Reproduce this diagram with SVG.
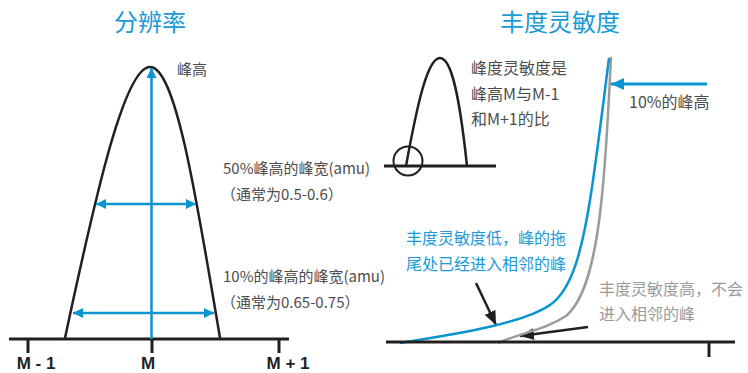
<svg xmlns="http://www.w3.org/2000/svg" width="748" height="373" viewBox="0 0 748 373">
<style>
.t{font-family:"Noto Sans CJK SC","Liberation Sans",sans-serif;fill:#4d4d4d}
.title{font-size:24px;fill:#1a9ad6;text-anchor:middle}
.s15{font-size:15px}
.s16{font-size:16px}
.blue{fill:#1a9ad6}
.gray{fill:#9b9b9b}
.lab{font-family:"Liberation Sans",Arial,sans-serif;font-weight:bold;font-size:17px;fill:#231f20;text-anchor:middle}
.k{stroke:#231f20;fill:none}
.b{stroke:#0a94d0;fill:none}
</style>
<defs>
<marker id="ab" viewBox="0 0 10 10" refX="10" refY="5" markerWidth="10" markerHeight="10" markerUnits="userSpaceOnUse" orient="auto-start-reverse"><path d="M0,0 L10,5 L0,10 z" fill="#0a94d0"/></marker>
<marker id="ab2" viewBox="0 0 13 12" refX="13" refY="6" markerWidth="13" markerHeight="12" markerUnits="userSpaceOnUse" orient="auto"><path d="M0,0 L13,6 L0,12 z" fill="#0a94d0"/></marker>
<marker id="ak" viewBox="0 0 14 12" refX="14" refY="6" markerWidth="14" markerHeight="12" markerUnits="userSpaceOnUse" orient="auto"><path d="M0,0 L14,6 L0,12 z" fill="#231f20"/></marker>
</defs>

<g id="titles">
<text class="t title" x="150" y="31">分辨率</text>
<text class="t title" x="560" y="31">丰度灵敏度</text>
</g>

<g id="resolution-peak">
<path class="k" stroke-width="2.5" d="M65,338 C97,188 125,67 150,67 C175,67 195,188 220,338"/>
</g>

<g id="left-axis">
<line class="k" stroke-width="3" x1="9" y1="339" x2="289" y2="339"/>
<line class="k" stroke-width="3" x1="28" y1="339" x2="28" y2="353"/>
<line class="k" stroke-width="3" x1="152" y1="339" x2="152" y2="353"/>
<line class="k" stroke-width="3" x1="279" y1="339" x2="279" y2="353"/>
<text class="lab" x="36" y="369">M - 1</text>
<text class="lab" x="148" y="369">M</text>
<text class="lab" x="288" y="369">M + 1</text>
</g>

<g id="connectors">
<line class="b" stroke-width="2.5" x1="151.5" y1="339" x2="151.5" y2="68" marker-end="url(#ab)"/>
<line class="b" stroke-width="2.5" x1="96" y1="204" x2="196" y2="204" marker-start="url(#ab)" marker-end="url(#ab)"/>
<line class="b" stroke-width="2.5" x1="73" y1="313" x2="214" y2="313" marker-start="url(#ab)" marker-end="url(#ab)"/>
<line class="b" stroke-width="3" x1="707" y1="84" x2="611" y2="84" marker-end="url(#ab2)"/>
<line class="k" stroke-width="2.5" x1="476" y1="283" x2="496" y2="325" marker-end="url(#ak)"/>
<line class="k" stroke-width="2.5" x1="588" y1="327" x2="520" y2="336" marker-end="url(#ak)"/>
</g>

<g id="left-labels">
<text class="t s15" x="177" y="75">峰高</text>
<text class="t s15" x="223" y="174">50%峰高的峰宽(amu)</text>
<text class="t s15" x="221" y="200">（通常为0.5-0.6）</text>
<text class="t s15" x="223" y="282">10%的峰高的峰宽(amu)</text>
<text class="t s15" x="221" y="308">（通常为0.65-0.75）</text>
</g>

<g id="small-peak">
<line class="k" stroke-width="3" x1="384" y1="166" x2="496" y2="166"/>
<path class="k" stroke-width="2.5" d="M406,166 C418,100 428,58 440,58 C452,58 460,100 467,166"/>
<circle class="k" stroke-width="2" cx="408" cy="161" r="14.5"/>
<text class="t s16" x="471" y="74">峰度灵敏度是</text>
<text class="t s16" x="471" y="99.5">峰高M与M-1</text>
<text class="t s16" x="471" y="125">和M+1的比</text>
</g>

<g id="abundance-curves">
<path fill="none" stroke="#9b9b9b" stroke-width="2.5" d="M611,57 C608,120 605,170 601,205 C595,260 585,300 566,316 C545,330 520,333 498,343"/>
<path class="b" stroke-width="2.5" d="M609,58 C600,130 595,170 590,200 C582,250 572,290 550,305 C525,322 470,332 400,343"/>
</g>

<g id="right-axis">
<line class="k" stroke-width="3" x1="386" y1="342" x2="735" y2="342"/>
<line class="k" stroke-width="3" x1="709" y1="342" x2="709" y2="357"/>
</g>

<g id="right-labels">
<text class="t s16" x="629" y="108">10%的峰高</text>
<text class="t s16 blue" x="406" y="244">丰度灵敏度低，峰的拖</text>
<text class="t s16 blue" x="406" y="270">尾处已经进入相邻的峰</text>
<text class="t s16 gray" x="599" y="295">丰度灵敏度高，不会</text>
<text class="t s16 gray" x="599" y="320">进入相邻的峰</text>
</g>
</svg>
